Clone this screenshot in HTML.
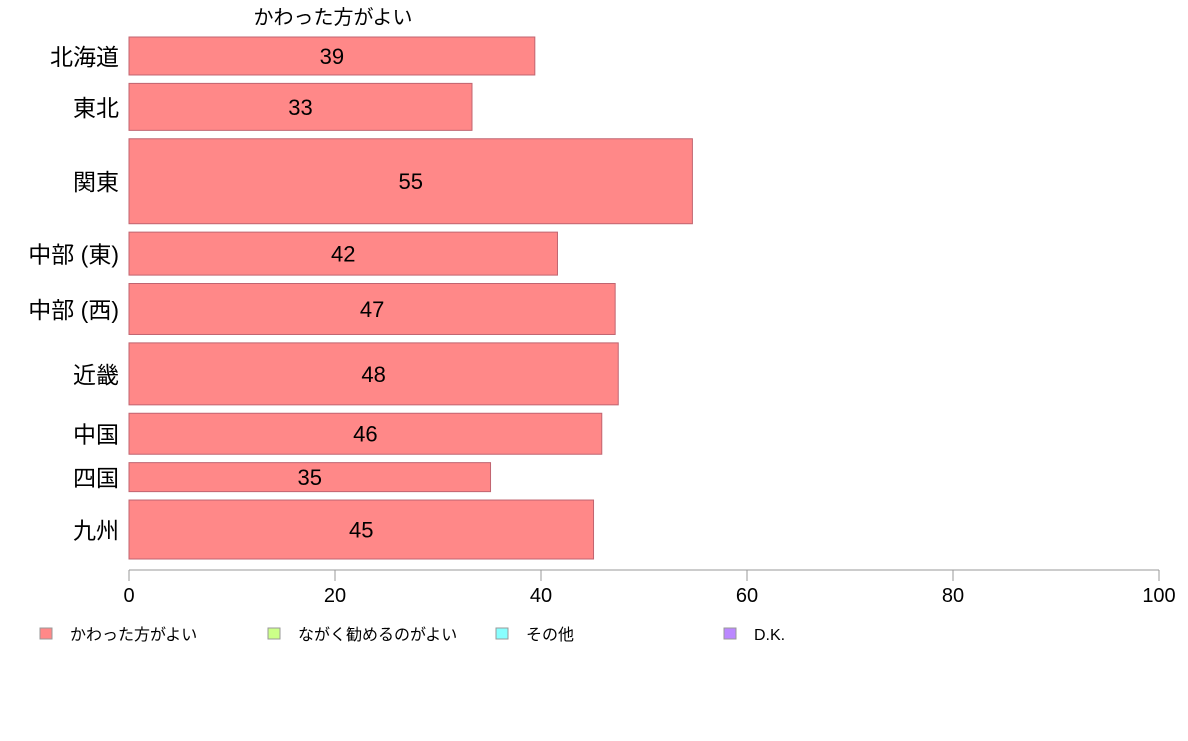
<!DOCTYPE html>
<html><head><meta charset="utf-8"><style>
body{margin:0;background:#fff;}
svg text{font-family:"Liberation Sans","Noto Sans CJK JP",sans-serif;}
</style></head><body>
<svg id="chart" width="1188" height="736" xmlns="http://www.w3.org/2000/svg">
<text x="333" y="24" font-size="20" text-anchor="middle" fill="#000">かわった方がよい</text>
<g id="bars"></g>
<g id="axis"></g>
<g id="legend"></g>
</svg>
<script>
const categories=["北海道","東北","関東","中部 (東)","中部 (西)","近畿","中国","四国","九州"];
const values=[39.4,33.3,54.7,41.6,47.2,47.5,45.9,35.1,45.1];
const weights=[38,47,85,43,51,62,41,29,59];
const ticks=[0,20,40,60,80,100];
const legendLabels=["かわった方がよい","ながく勧めるのがよい","その他","D.K."];
const legendColors=["#ff8888","#ccff88","#88ffff","#bb88ff"];
const NS="http://www.w3.org/2000/svg";
const x0=129,x1=1159,yTop=37,yBot=559,gap=8.4;
const xs=v=>x0+(v/100)*(x1-x0);
const totalW=weights.reduce((a,b)=>a+b,0);
const hScale=(yBot-yTop-gap*(weights.length-1))/totalW;
function mk(tag,attrs){const e=document.createElementNS(NS,tag);for(const k in attrs)e.setAttribute(k,attrs[k]);return e;}
const bars=document.getElementById('bars');
let y=yTop;
categories.forEach((c,i)=>{
 const h=weights[i]*hScale;
 const r=mk('rect',{x:x0,y:y,width:xs(values[i])-x0,height:h,fill:'#ff8888',stroke:'#c06470','stroke-width':1});
 
 
 bars.appendChild(r);
 const t=mk('text',{x:(x0+xs(values[i]))/2,y:y+h/2+8,'font-size':22,'text-anchor':'middle',fill:'#000'});
 t.textContent=Math.round(values[i]);
 
 
 bars.appendChild(t);
 const l=mk('text',{x:119,y:y+h/2+9,'font-size':23,'text-anchor':'end',fill:'#000'});
 l.textContent=c;
 
 
 bars.appendChild(l);
 y+=h+gap;
});
const ax=document.getElementById('axis');
const line=mk('line',{x1:x0,x2:x1,y1:570,y2:570,stroke:'#999','stroke-width':1});


ax.appendChild(line);
ticks.forEach(v=>{
 const tk=mk('line',{x1:xs(v),x2:xs(v),y1:570,y2:581,stroke:'#999','stroke-width':1});
 
 
 ax.appendChild(tk);
 const t=mk('text',{x:xs(v),y:602,'font-size':20,'text-anchor':'middle',fill:'#000'});
 t.textContent=v;
 
 
 ax.appendChild(t);
});
const lg=document.getElementById('legend');
const lx=[40,268,496,724];
legendLabels.forEach((s,i)=>{
 const r=mk('rect',{x:lx[i],y:628,width:12,height:11,fill:legendColors[i],stroke:'#999','stroke-width':1});
 
 
 lg.appendChild(r);
 const t=mk('text',{x:lx[i]+30,y:640,'font-size':16,fill:'#000'});
 t.textContent=s;
 
 
 lg.appendChild(t);
});
</script>
</body></html>
